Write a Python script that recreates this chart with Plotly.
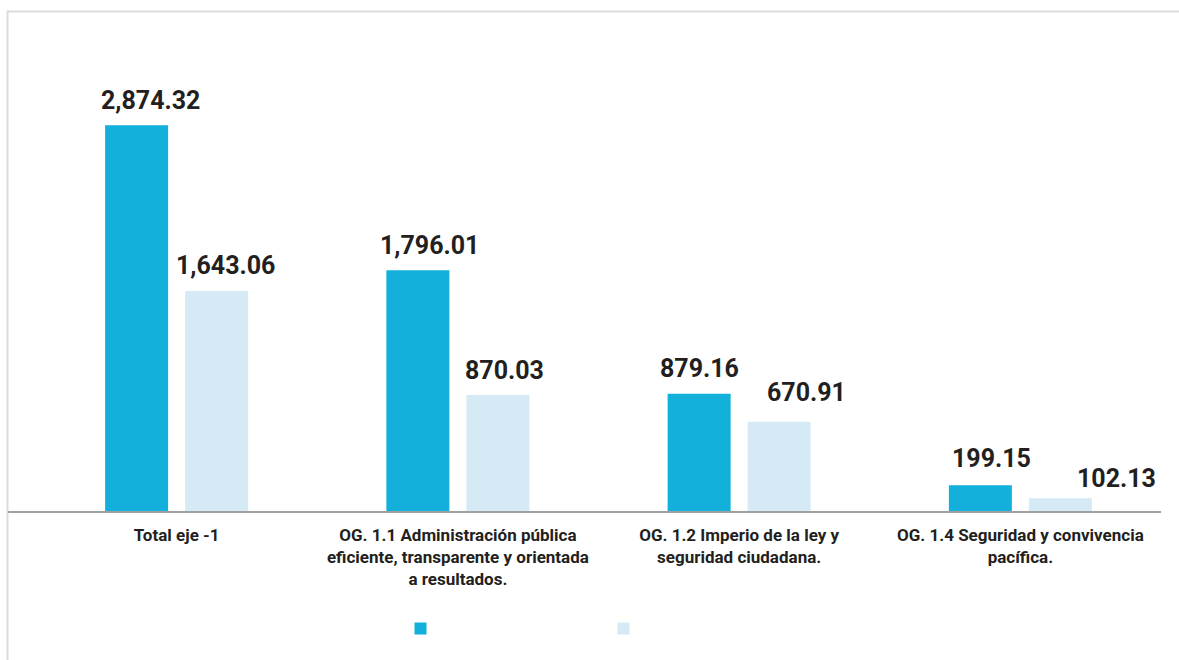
import plotly.graph_objects as go

categories = [
    "Total eje -1",
    "OG. 1.1 Administración pública<br>eficiente, transparente y orientada<br>a resultados.",
    "OG. 1.2 Imperio de la ley y<br>seguridad ciudadana.",
    "OG. 1.4 Seguridad y convivencia<br>pacífica.",
]
series_a = [2874.32, 1796.01, 879.16, 199.15]
series_b = [1643.06, 870.03, 670.91, 102.13]
label_a = ["2,874.32", "1,796.01", "879.16", "199.15"]
label_b = ["1,643.06", "870.03", "670.91", "102.13"]

# style: label offsets (pixels)
DX_A = [-26.5, -28, -39.5, -28.5]
DX_B = [49, 47, 67.5, 96.5]
GAP_A = [16, 16, 17, 18]
GAP_B = [17, 16, 21, 11]

C_DARK = "#12b0da"
C_LIGHT = "#d5eaf5"
TXT = "#231f20"
FONT = "Roboto"

W, H = 1179, 660
L, R, T, B = 36, W - 1161, 40, H - 512
PW, PH = W - L - R, H - T - B

fig = go.Figure()
fig.add_trace(go.Bar(x=categories, y=series_a, name=" ", marker=dict(color=C_DARK, line=dict(width=0))))
fig.add_trace(go.Bar(x=categories, y=series_b, name=" ", marker=dict(color=C_LIGHT, line=dict(width=0))))

ymax = 472 / (386.7 / 2874.32)

annots = []
for vals, labs, dxs, gaps in ((series_a, label_a, DX_A, GAP_A), (series_b, label_b, DX_B, GAP_B)):
    for c, v, t, dx, g in zip(categories, vals, labs, dxs, gaps):
        annots.append(dict(
            x=c, y=v, text=f"<b>{t}</b>", showarrow=False,
            xanchor="center", yanchor="bottom", xshift=dx, yshift=g - 8,
            font=dict(family=FONT, size=25, color=TXT),
        ))

def px_x(p):
    return (p - L) / PW

def px_y(p):
    return (H - B - p) / PH

shapes = [
    dict(type="rect", xref="paper", yref="paper",
         x0=px_x(7.5), x1=px_x(W + 20), y0=px_y(H + 20), y1=px_y(11.5),
         line=dict(color="#dcdcdc", width=2), fillcolor="rgba(0,0,0,0)", layer="below"),
    dict(type="line", xref="paper", yref="paper",
         x0=px_x(8), x1=px_x(1161), y0=0, y1=0,
         line=dict(color="#a0a0a0", width=2)),
]

fig.update_layout(
    width=W, height=H,
    margin=dict(l=L, r=R, t=T, b=B, autoexpand=False),
    paper_bgcolor="white", plot_bgcolor="white",
    barmode="group", bargap=0.4311, bargroupgap=0.2125,
    font=dict(family=FONT, color=TXT),
    xaxis=dict(
        showline=False, showgrid=False, zeroline=False, ticks="",
        tickfont=dict(family=FONT, size=17, color=TXT),
        tickangle=0, ticklabelstandoff=11,
    ),
    yaxis=dict(range=[0, ymax], visible=False, showgrid=False, zeroline=False),
    showlegend=True,
    legend=dict(
        orientation="h", x=px_x(400.5), xanchor="left",
        y=px_y(628.5), yanchor="middle",
        entrywidth=158, entrywidthmode="pixels",
        font=dict(size=12), bgcolor="rgba(0,0,0,0)",
    ),
    annotations=annots,
    shapes=shapes,
)
fig.update_xaxes(tickprefix="<b>", ticksuffix="</b>")

fig.write_html(
    "out.html",
    config={"displayModeBar": False},
    post_script="document.body.style.margin='0';document.body.style.overflow='hidden';",
)
